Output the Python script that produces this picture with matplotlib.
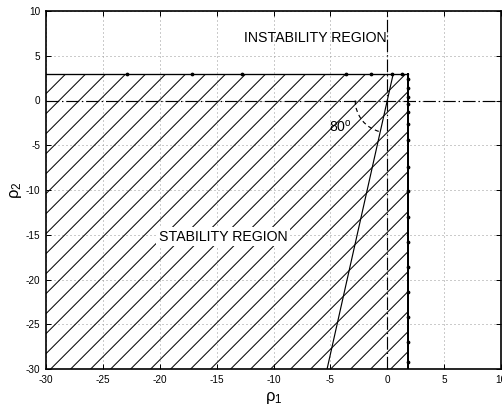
import numpy as np
import matplotlib
matplotlib.use('Agg')
import matplotlib.pyplot as plt
import matplotlib.patches as patches

plt.rcParams['font.family'] = ['Liberation Sans', 'DejaVu Sans']
plt.rcParams['mathtext.fontset'] = 'custom'
plt.rcParams['mathtext.rm'] = 'Liberation Sans'
plt.rcParams['mathtext.it'] = 'Liberation Sans'
plt.rcParams['lines.scale_dashes'] = False
plt.rcParams['axes.unicode_minus'] = False

# stability region bounds
rho1_lim = [-30, 1.8]
rho2_lim = [-30, 3]
# line through origin at 80 deg
line_angle = 80
line_rho2 = [-30, 3]
# sampled boundary points (dots on the edge)
top_dots_x = [-22.9, -17.2, -12.8, -3.6, -1.4, 0.4, 1.3]
right_dots_y = [2.4, 1.4, 0.4, -0.4, -1.3, -2.6, -4.4, -7.4, -10.1, -13.0,
                -15.8, -18.6, -21.4, -24.2, -27.0, -29.2]
arc_radius_px = 32
hatch_step_px = 20

dpi = 120
W, H = 502, 407
ax_box = [46, 38, 455, 358]   # left, bottom, width, height in px
fig = plt.figure(figsize=(W / dpi, H / dpi), dpi=dpi)
ax = fig.add_axes([ax_box[0] / W, ax_box[1] / H, ax_box[2] / W, ax_box[3] / H])

ax.set_xlim(-30, 10)
ax.set_ylim(-30, 10)
ax.set_xticks(np.arange(-30, 11, 5))
ax.set_yticks(np.arange(-30, 11, 5))

# pixels per data unit
sx = ax_box[2] / 40
sy = ax_box[3] / 40

# grid, dotted
ax.grid(True, color='0.6', linestyle=(0, (0.6, 1.8)), linewidth=0.6)

# hatched stability region (45 deg on screen)
rect = patches.Rectangle((rho1_lim[0], rho2_lim[0]), rho1_lim[1] - rho1_lim[0],
                         rho2_lim[1] - rho2_lim[0], facecolor='none',
                         edgecolor='none', zorder=2)
ax.add_patch(rect)
step = hatch_step_px / sx
slope_px = sx / sy
height = rho2_lim[1] - rho2_lim[0]
x0 = rho1_lim[0] - height / slope_px
while x0 < rho1_lim[1]:
    ln, = ax.plot([x0, x0 + height / slope_px], [rho2_lim[0], rho2_lim[1]],
                  color='black', lw=0.6, zorder=2)
    ln.set_clip_path(rect)
    x0 += step

# region boundary
ax.plot([rho1_lim[0], rho1_lim[1]], [rho2_lim[1], rho2_lim[1]], color='black', lw=0.8, zorder=3)
ax.plot([rho1_lim[1], rho1_lim[1]], [rho2_lim[1], rho2_lim[0]], color='black', lw=1.2, zorder=3)
ax.plot(top_dots_x, [rho2_lim[1]] * len(top_dots_x), ls='none', marker='.', ms=2.5, color='black', zorder=3)
ax.plot([rho1_lim[1]] * len(right_dots_y), right_dots_y, ls='none', marker='.', ms=2.5, color='black', zorder=3)

# dash-dot axes through origin
dd = (0, (7.5, 1.8, 0.8, 1.8))
ax.axhline(0, color='black', lw=0.7, linestyle=dd, zorder=3)
ax.axvline(0, color='black', lw=0.7, linestyle=dd, zorder=3)

# line at 80 degrees
slope = np.tan(np.deg2rad(line_angle))
ax.plot(np.array(line_rho2) / slope, line_rho2, color='black', lw=0.7, zorder=3)

# angle arc, circular in pixels
arc = patches.Arc((0, 0), 2 * arc_radius_px / sx, 2 * arc_radius_px / sy,
                  theta1=180, theta2=180 + line_angle, color='black', lw=0.7,
                  linestyle=(0, (2.5, 2)), zorder=3)
ax.add_patch(arc)

ax.text(-5.1, -2.9, r'80$^{\mathrm{o}}$', fontsize=8.5, va='center', ha='left')
ax.text(-12.6, 7.0, 'INSTABILITY REGION', fontsize=8.5, va='center', ha='left')
ax.text(-20.1, -15.2, 'STABILITY REGION', fontsize=8.5, va='center', ha='left',
        bbox=dict(facecolor='white', edgecolor='none', pad=1.5), zorder=4)

ax.set_xlabel('ρ$_1$', fontsize=10, labelpad=3)
ax.set_ylabel('ρ$_2$', fontsize=10, labelpad=1)

ax.tick_params(direction='in', length=3, width=0.6, labelsize=6, pad=3.5,
               top=True, right=True)
for s in ax.spines.values():
    s.set_linewidth(1.0)

fig.savefig('out.png', dpi=dpi)
